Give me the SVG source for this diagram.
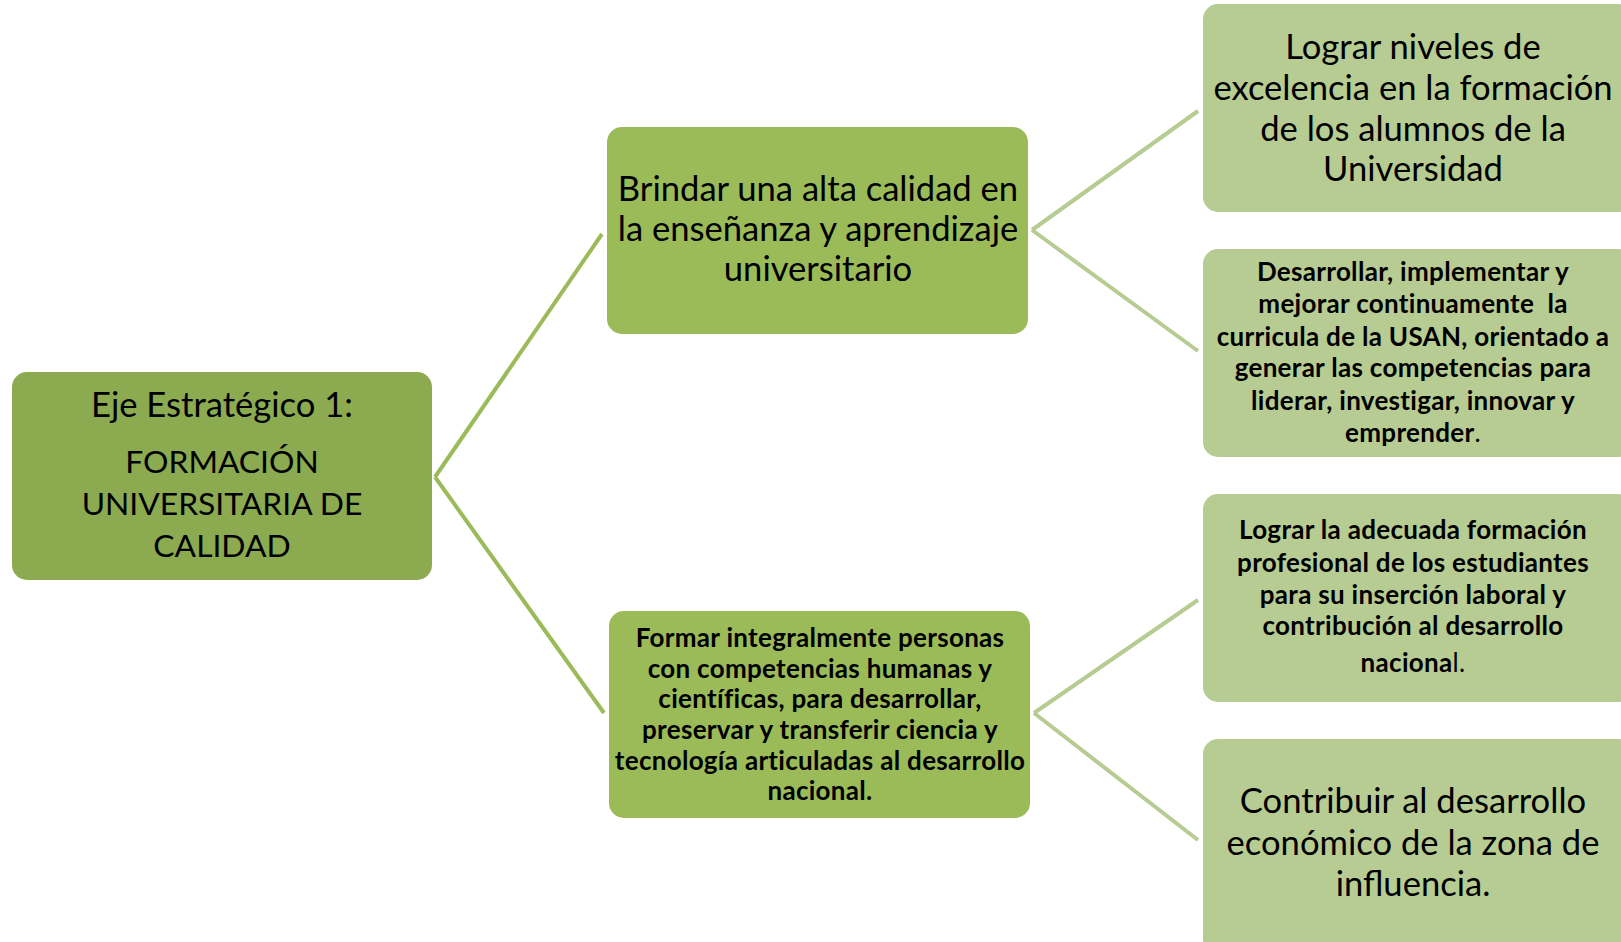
<svg xmlns="http://www.w3.org/2000/svg" width="1621" height="942" viewBox="0 0 1621 942">
<style>
.t{font-family:Lato,"Liberation Sans",sans-serif;fill:#000;text-anchor:middle}
.r{font-size:34.6px}
.cap{font-size:31.8px}
.b{font-size:26px;font-weight:bold;letter-spacing:0.3px}
.n1{fill:#8cab51}
.n2{fill:#9bbb59}
.n3{fill:#b7cc92}
.c1{stroke:#9bbb59;stroke-width:4;fill:none}
.c2{stroke:#b7cc92;stroke-width:4;fill:none}
</style>
<rect width="1621" height="942" fill="#fff"/>
<g id="connectors">
<line class="c1" x1="435" y1="477" x2="602" y2="234"/>
<line class="c1" x1="435" y1="477" x2="604" y2="713"/>
<line class="c2" x1="1032" y1="230" x2="1198" y2="111"/>
<line class="c2" x1="1032" y1="230" x2="1198" y2="351"/>
<line class="c2" x1="1034" y1="713" x2="1198" y2="600"/>
<line class="c2" x1="1034" y1="713" x2="1198" y2="840"/>
</g>
<g id="root">
<rect class="n1" x="12" y="372" width="420" height="208" rx="15"/>
<text class="t r" x="222" y="417">Eje Estratégico 1:</text>
<text class="t cap" x="222" y="473">FORMACIÓN</text>
<text class="t cap" x="222" y="515">UNIVERSITARIA DE</text>
<text class="t cap" x="222" y="557">CALIDAD</text>
</g>
<g id="mid1">
<rect class="n2" x="607" y="127" width="421" height="207" rx="15"/>
<text class="t r" x="818" y="201">Brindar una alta calidad en</text>
<text class="t r" x="818" y="241">la enseñanza y aprendizaje</text>
<text class="t r" x="818" y="281">universitario</text>
</g>
<g id="mid2">
<rect class="n2" x="609" y="611" width="421" height="207" rx="15"/>
<text class="t b" x="820" y="647">Formar integralmente personas</text>
<text class="t b" x="820" y="678">con competencias humanas y</text>
<text class="t b" x="820" y="708">científicas, para desarrollar,</text>
<text class="t b" x="820" y="739">preservar y transferir ciencia y</text>
<text class="t b" x="820" y="770">tecnología articuladas al desarrollo</text>
<text class="t b" x="820" y="800">nacional.</text>
</g>
<g id="leaf1">
<rect class="n3" x="1203" y="4" width="430" height="208" rx="15"/>
<text class="t r" x="1413" y="59">Lograr niveles de</text>
<text class="t r" x="1413" y="100">excelencia en la formación</text>
<text class="t r" x="1413" y="141">de los alumnos de la</text>
<text class="t r" x="1413" y="181">Universidad</text>
</g>
<g id="leaf2">
<rect class="n3" x="1203" y="249" width="430" height="208" rx="15"/>
<text class="t b" x="1413" y="281">Desarrollar, implementar y</text>
<text class="t b" x="1413" y="313" style="white-space:pre">mejorar continuamente  la</text>
<text class="t b" x="1413" y="346">curricula de la USAN, orientado a</text>
<text class="t b" x="1413" y="377">generar las competencias para</text>
<text class="t b" x="1413" y="410">liderar, investigar, innovar y</text>
<text class="t b" x="1413" y="442">emprender<tspan font-weight="normal">.</tspan></text>
</g>
<g id="leaf3">
<rect class="n3" x="1203" y="494" width="430" height="208" rx="15"/>
<text class="t b" x="1413" y="539">Lograr la adecuada formación</text>
<text class="t b" x="1413" y="572">profesional de los estudiantes</text>
<text class="t b" x="1413" y="604">para su inserción laboral y</text>
<text class="t b" x="1413" y="635">contribución al desarrollo</text>
<text class="t b" x="1413" y="672">naciona<tspan font-weight="normal">l.</tspan></text>
</g>
<g id="leaf4">
<rect class="n3" x="1203" y="739" width="430" height="215" rx="15"/>
<text class="t r" x="1413" y="813">Contribuir al desarrollo</text>
<text class="t r" x="1413" y="855">económico de la zona de</text>
<text class="t r" x="1413" y="896">influencia.</text>
</g>
</svg>
